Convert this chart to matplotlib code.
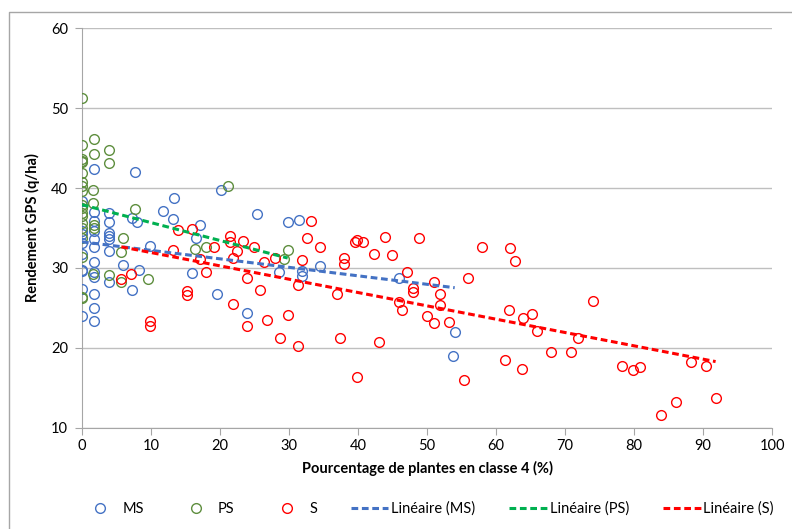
import numpy as np
import matplotlib
matplotlib.use("Agg")
from matplotlib import pyplot as plt
from matplotlib.lines import Line2D

plt.rcParams['font.family'] = ['Lato', 'DejaVu Sans']

# MS (blue)
ms_x = [0, 0, 0, 0, 0, 0, 0, 0, 0,
        1.8, 1.8, 1.8, 1.8, 1.8, 1.8, 1.8, 1.8, 1.8, 1.8, 1.8, 1.8,
        3.9, 3.9, 3.9, 3.9, 3.9, 3.9, 3.9,
        5.9, 7.3, 7.3, 7.7, 8.0, 8.2, 9.9, 11.7, 13.2, 13.4, 15.9, 16.5, 17.1,
        19.5, 20.1, 23.9, 25.4, 28.5, 29.8, 31.5, 31.9, 31.9, 34.5, 45.9, 53.8, 54.0]
ms_y = [38.4, 34.6, 34.2, 33.1, 31.8, 29.8, 29.6, 27.4, 24.0,
        42.4, 37.0, 35.9, 34.6, 33.6, 32.6, 30.7, 29.5, 28.9, 26.8, 25.0, 23.4,
        36.9, 35.7, 34.4, 34.0, 33.6, 32.1, 28.2,
        30.4, 36.3, 27.3, 42.0, 35.7, 29.7, 32.8, 37.1, 36.1, 38.8, 29.4, 33.8, 35.4,
        26.8, 39.7, 24.4, 36.7, 29.5, 35.8, 36.0, 29.6, 29.0, 30.2, 28.75, 19.0, 22.0]

# PS (green)
ps_x = [0] * 19 + [1.7, 1.8, 1.6, 1.6, 1.8, 1.8, 1.6,
                   3.9, 3.9, 3.9, 5.9, 5.7, 5.7, 7.7, 9.6, 16.4, 17.9, 21.1, 29.3, 29.8]
ps_y = [51.3, 45.4, 43.6, 43.4, 43.2, 41.9, 40.7, 40.3, 39.6, 37.9, 37.5, 36.9, 36.5,
        35.6, 35.0, 33.7, 31.4, 26.4, 26.2,
        46.1, 44.3, 39.7, 38.1, 35.4, 35.0, 29.3,
        44.7, 43.1, 29.1, 33.7, 32.0, 28.3, 37.4, 28.6, 32.4, 32.6, 40.2, 31.1, 32.3]

# S (red)
s_x = [5.7, 7.1, 9.9, 9.9, 13.2, 13.9, 15.2, 15.2, 15.9, 17.1, 17.9, 19.2,
       21.5, 21.5, 21.9, 21.9, 22.5, 23.4, 23.9, 23.9, 24.9, 25.8, 26.4, 26.8,
       27.9, 28.7, 29.8, 31.3, 31.3, 31.9, 32.6, 33.2, 34.5, 37.0, 37.4, 37.9,
       37.9, 39.5, 39.9, 39.9, 40.7, 42.3, 43.1, 43.9, 44.9, 45.9, 46.3, 47.1,
       47.9, 47.9, 48.9, 50.0, 51.0, 51.0, 51.9, 51.9, 53.2, 55.3, 55.9, 58.0,
       61.3, 61.9, 62.0, 62.7, 63.7, 63.9, 65.2, 65.9, 67.9, 70.9, 71.9, 74.0,
       78.3, 79.9, 80.9, 83.9, 86.0, 88.3, 90.4, 91.8]
s_y = [28.6, 29.2, 23.4, 22.8, 32.2, 34.7, 27.1, 26.6, 34.9, 31.1, 29.5, 32.6,
       34.0, 33.3, 31.3, 25.5, 32.1, 33.4, 28.8, 22.8, 32.6, 27.3, 30.7, 23.5,
       31.2, 21.2, 24.1, 20.3, 27.9, 31.0, 33.8, 35.9, 32.6, 26.7, 21.3, 31.2,
       30.5, 33.2, 33.5, 16.4, 33.3, 31.8, 20.7, 33.9, 31.6, 25.8, 24.7, 29.5,
       27.5, 27.0, 33.75, 24.0, 28.25, 23.1, 26.75, 25.4, 23.2, 16.0, 28.8, 32.6,
       18.5, 24.7, 32.5, 30.9, 17.4, 23.8, 24.25, 22.1, 19.5, 19.5, 21.2, 25.9,
       17.8, 17.2, 17.6, 11.6, 13.3, 18.2, 17.8, 13.8]

series = [
    ("MS", ms_x, ms_y, "#4472C4", "#4472C4"),
    ("PS", ps_x, ps_y, "#5E8E3E", "#00B050"),
    ("S", s_x, s_y, "#FF0000", "#FF0000"),
]

fig = plt.figure(figsize=(7.92, 5.29), dpi=100)
ax = fig.add_axes([0.1035, 0.191, 0.8715, 0.756])

# chart area border (cropped on the right and bottom)
fig.add_artist(Line2D([0.0114, 0.0114, 1.0], [0.0, 0.977, 0.977],
                      color='#A6A6A6', linewidth=1.0, transform=fig.transFigure))

point_handles = []
line_handles = []
for name, xs, ys, col, tcol in series:
    h = ax.plot(xs, ys, linestyle='none', marker='o', markersize=7,
                markerfacecolor='none', markeredgecolor=col, markeredgewidth=1.0,
                label=name, zorder=3)[0]
    point_handles.append(h)

# linear trend lines
for name, xs, ys, col, tcol in series:
    xs = np.array(xs)
    coef = np.polyfit(xs, ys, 1)
    xx = np.array([xs.min(), xs.max()])
    h = ax.plot(xx, np.polyval(coef, xx), linestyle=(0, (2.2, 1.2)), color=tcol,
                linewidth=2.2, label="Linéaire (%s)" % name, zorder=4)[0]
    line_handles.append(h)

ax.set_xlim(0, 100)
ax.set_ylim(10, 60)
ax.set_xticks(np.arange(0, 101, 10))
ax.set_yticks(np.arange(10, 61, 10))
ax.grid(axis='y', color='#BFBFBF', linewidth=1.0)
ax.set_axisbelow(True)
for s in ['top', 'right']:
    ax.spines[s].set_visible(False)
for s in ['left', 'bottom']:
    ax.spines[s].set_color('#A6A6A6')
ax.tick_params(axis='x', length=5, color='#A6A6A6', labelsize=10.5, pad=3)
ax.tick_params(axis='y', length=5, color='#A6A6A6', labelsize=10.5, pad=5)

ax.set_xlabel("Pourcentage de plantes en classe 4 (%)", fontweight='bold', fontsize=10.5, labelpad=6)
ax.set_ylabel("Rendement GPS (q/ha)", fontweight='bold', fontsize=10.5, labelpad=8)

fig.legend(handles=point_handles + line_handles, loc='lower center',
           bbox_to_anchor=(0.54, 0.0), ncol=6, frameon=False, fontsize=10.5,
           handlelength=2.6, handletextpad=0.2, columnspacing=2.3)

fig.savefig("out.png", dpi=100)
